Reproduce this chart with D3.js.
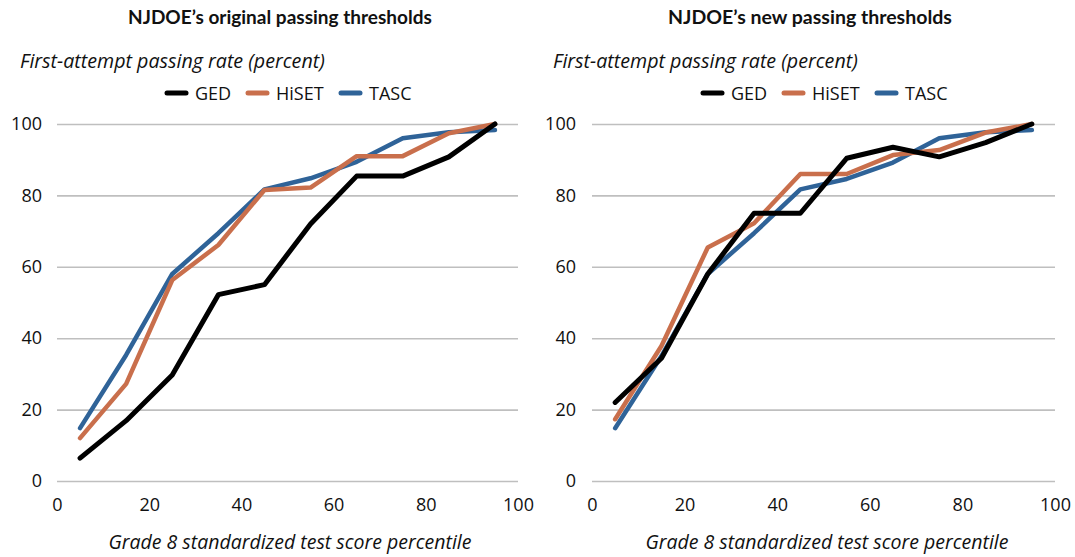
<!DOCTYPE html>
<html>
<head>
<meta charset="utf-8">
<script src="https://cdn.jsdelivr.net/npm/d3@7"></script>
<style>
  body { margin: 0; background: #fff; }
  svg { display: block; font-family: 'Open Sans', sans-serif; }
</style>
</head>
<body>
<svg id="chart" width="1075" height="557"></svg>
<script>
const percentiles = [5, 15, 25, 35, 45, 55, 65, 75, 85, 95]
const xTicks = [0, 20, 40, 60, 80, 100]
const yTicks = [0, 20, 40, 60, 80, 100]
const seriesNames = ['GED', 'HiSET', 'TASC']
const seriesColors = { GED: '#000000', HiSET: '#c96f4c', TASC: '#2f6398' }

// original thresholds
const origGED = [6.4, 16.9, 29.7, 52.2, 55, 72, 85.4, 85.4, 90.8, 100]
const origHiSET = [12, 27.2, 56.3, 66.1, 81.5, 82.2, 91, 91, 97.4, 100]
const origTASC = [14.8, 35.3, 58, 69.4, 81.7, 84.8, 89.4, 96, 97.7, 98.3]

// new thresholds
const newGED = [22, 34.4, 58, 75, 75, 90.4, 93.5, 90.8, 94.8, 100]
const newHiSET = [17.3, 37.8, 65.4, 72.2, 86, 86, 91.3, 92.7, 97.6, 100]
const newTASC = [14.8, 35, 58, 69.4, 81.7, 84.6, 89.2, 96, 97.7, 98.3]

const svg = d3.select('#chart')

// shrink/grow a text's font size so it spans the given width
const fitWidth = (sel, width) => {
  const size = parseFloat(sel.attr('font-size'))
  const w = sel.node().getComputedTextLength()
  if (w > 0) sel.attr('font-size', (size * width) / w)
}

const drawPanel = (cfg, values) => {
  const g = svg.append('g')

  const x = d3.scaleLinear().domain([0, 100]).range([cfg.left, cfg.right])
  const y = d3.scaleLinear().domain([0, 100]).range([481, 124])

  // gridlines
  g.append('g')
    .attr('transform', `translate(${cfg.left},0)`)
    .call(d3.axisLeft(y).tickValues(yTicks).tickSize(-(cfg.right - cfg.left)).tickFormat(''))
    .call((a) => a.select('.domain').remove())
    .call((a) => a.selectAll('line').attr('stroke', '#bfbfbf').attr('stroke-width', 1.6))

  // y tick labels
  g.append('g')
    .attr('transform', `translate(${cfg.yLabelX},0)`)
    .call(d3.axisLeft(y).tickValues(yTicks).tickSize(0).tickPadding(0))
    .call((a) => a.select('.domain').remove())
    .call((a) => a.selectAll('text').attr('font-size', 18).attr('fill', '#111').attr('font-family', "'Open Sans', sans-serif"))

  // x tick labels
  g.append('g')
    .attr('transform', 'translate(0,498)')
    .call(d3.axisBottom(x).tickValues(xTicks).tickSize(0).tickPadding(0))
    .call((a) => a.select('.domain').remove())
    .call((a) => a.selectAll('text').attr('font-size', 18).attr('fill', '#111').attr('font-family', "'Open Sans', sans-serif"))

  const line = d3.line().x((d) => x(d[0])).y((d) => y(d[1]))

  // TASC, HiSET, then GED on top
  ;['TASC', 'HiSET', 'GED'].forEach((name) => {
    const pts = percentiles.map((p, i) => [p, values[name][i]])
    g.append('path')
      .datum(pts)
      .attr('d', line)
      .attr('fill', 'none')
      .attr('stroke', seriesColors[name])
      .attr('stroke-width', name === 'GED' ? 5 : 4.5)
      .attr('stroke-linejoin', 'round')
      .attr('stroke-linecap', 'round')
  })

  // title
  g.append('text')
    .attr('x', cfg.titleX)
    .attr('y', 24)
    .attr('text-anchor', 'middle')
    .attr('font-family', 'Lato, sans-serif')
    .attr('font-weight', 'bold')
    .attr('font-size', 18)
    .attr('fill', '#111')
    .text(cfg.title)
    .call(fitWidth, cfg.titleW)

  // y axis title
  g.append('text')
    .attr('x', cfg.yTitleX)
    .attr('y', 68)
    .attr('font-family', "'Open Sans', sans-serif")
    .attr('font-style', 'italic')
    .attr('font-size', 18)
    .attr('fill', '#111')
    .text('First-attempt passing rate (percent)')
    .call(fitWidth, 305)

  // x axis title
  g.append('text')
    .attr('x', cfg.xTitleX)
    .attr('y', 549)
    .attr('text-anchor', 'middle')
    .attr('font-family', "'Open Sans', sans-serif")
    .attr('font-style', 'italic')
    .attr('font-size', 17)
    .attr('fill', '#111')
    .text('Grade 8 standardized test score percentile')
    .call(fitWidth, 363)

  // legend
  const lg = g.append('g').attr('transform', `translate(${cfg.legendX},93)`)
  const offsets = [0, 81, 174]
  seriesNames.forEach((name, i) => {
    lg.append('line')
      .attr('x1', offsets[i]).attr('x2', offsets[i] + 19)
      .attr('y1', 0).attr('y2', 0)
      .attr('stroke', seriesColors[name])
      .attr('stroke-width', 5)
      .attr('stroke-linecap', 'round')
    lg.append('text')
      .attr('x', offsets[i] + 28)
      .attr('y', 6.5)
      .attr('font-family', "'Open Sans', sans-serif")
      .attr('font-size', 18)
      .attr('fill', '#111')
      .text(name)
  })
}

drawPanel({
  left: 57, right: 518, yLabelX: 42,
  title: 'NJDOE\u2019s original passing thresholds', titleX: 280, titleW: 304,
  yTitleX: 20, xTitleX: 290, legendX: 167
}, { GED: origGED, HiSET: origHiSET, TASC: origTASC })

drawPanel({
  left: 592, right: 1055, yLabelX: 576,
  title: 'NJDOE\u2019s new passing thresholds', titleX: 810, titleW: 284,
  yTitleX: 553, xTitleX: 827, legendX: 703
}, { GED: newGED, HiSET: newHiSET, TASC: newTASC })
</script>
</body>
</html>
